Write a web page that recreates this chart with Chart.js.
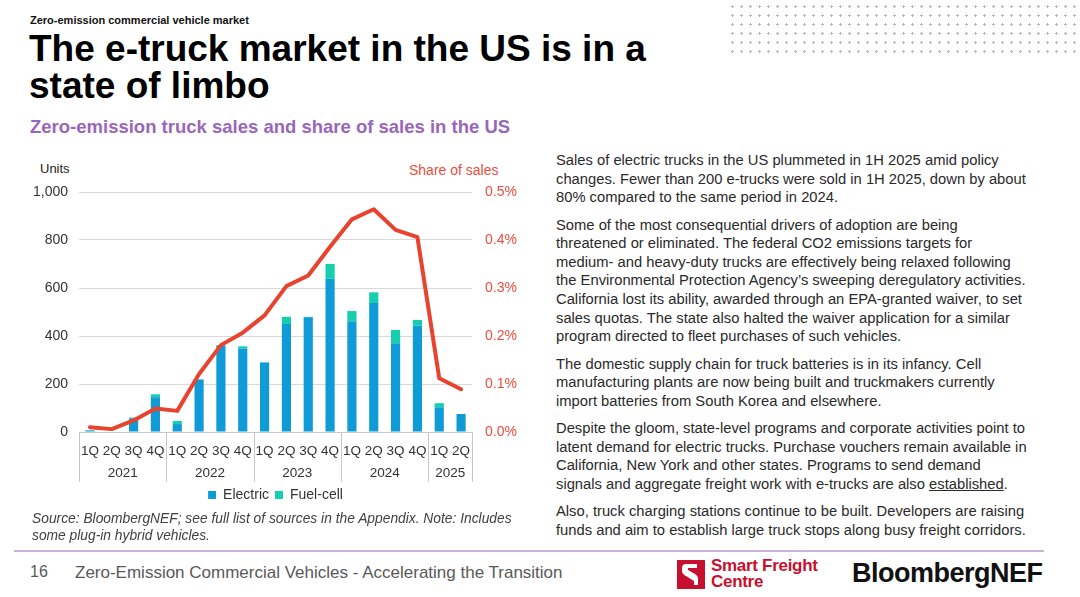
<!DOCTYPE html>
<html>
<head>
<meta charset="utf-8">
<script src="https://cdn.jsdelivr.net/npm/chart.js@4/dist/chart.umd.min.js"></script>
<style>
  body { margin: 0; background: #fff; font-family: "Liberation Sans", Arial, sans-serif; }
  #page { position: relative; width: 1080px; height: 597px; overflow: hidden; background: #fff; }
  .abs { position: absolute; white-space: nowrap; }
  #dots { position: absolute; left: 728px; top: 2px; width: 352px; height: 54px;
    background-image: radial-gradient(circle, #b8b8b8 1px, transparent 1.4px); background-size: 9px 9px; }
  #kicker { left: 30px; top: 14px; font-size: 11px; font-weight: bold; color: #111; }
  #title { left: 29px; top: 30px; font-size: 37px; font-weight: bold; color: #000; line-height: 37px; }
  #sub { left: 30px; top: 116px; font-size: 18.5px; font-weight: bold; color: #9966bb; }
  #units { left: 40px; top: 161px; font-size: 13px; color: #222; }
  #share { left: 409px; top: 162px; font-size: 14px; color: #ee4b3c; }
  #chartbox { position: absolute; left: 20px; top: 150px; width: 530px; height: 362px; }
  #note { left: 32px; top: 510px; font-size: 13.8px; font-style: italic; color: #404040; line-height: 17px; }
  #body { left: 556px; top: 151px; font-size: 14.75px; color: #2a2a2a; line-height: 18.6px; }
  #body p { margin: 0 0 8.8px 0; }
  #rule { position: absolute; left: 14px; top: 550px; width: 1030px; height: 2px; background: #c9b3dd; }
  #pg { left: 30px; top: 563px; font-size: 16px; color: #595959; }
  #foot { left: 75px; top: 563px; font-size: 17px; color: #595959; }
  #sfc { position: absolute; left: 677px; top: 560px; width: 28px; height: 29px; }
  #sfct { left: 711px; top: 558px; font-size: 17px; font-weight: bold; color: #c8102e; line-height: 15.5px; letter-spacing: -0.3px; }
  #bnef { left: 852px; top: 558px; font-size: 27px; font-weight: bold; color: #111; letter-spacing: -0.5px; }
</style>
</head>
<body>
<div id="page">
  <div id="dots"></div>
  <div class="abs" id="kicker">Zero-emission commercial vehicle market</div>
  <div class="abs" id="title">The e-truck market in the US is in a<br>state of limbo</div>
  <div class="abs" id="sub">Zero-emission truck sales and share of sales in the US</div>
  <div class="abs" id="units">Units</div>
  <div class="abs" id="share">Share of sales</div>
  <div id="chartbox"><canvas id="chart"></canvas></div>
  <div class="abs" id="note">Source: BloombergNEF; see full list of sources in the Appendix. Note: Includes<br>some plug-in hybrid vehicles.</div>
  <div class="abs" id="body">
    <p>Sales of electric trucks in the US plummeted in 1H 2025 amid policy<br>changes. Fewer than 200 e-trucks were sold in 1H 2025, down by about<br>80% compared to the same period in 2024.</p>
    <p>Some of the most consequential drivers of adoption are being<br>threatened or eliminated. The federal CO2 emissions targets for<br>medium- and heavy-duty trucks are effectively being relaxed following<br>the Environmental Protection Agency’s sweeping deregulatory activities.<br>California lost its ability, awarded through an EPA-granted waiver, to set<br>sales quotas. The state also halted the waiver application for a similar<br>program directed to fleet purchases of such vehicles.</p>
    <p>The domestic supply chain for truck batteries is in its infancy. Cell<br>manufacturing plants are now being built and truckmakers currently<br>import batteries from South Korea and elsewhere.</p>
    <p>Despite the gloom, state-level programs and corporate activities point to<br>latent demand for electric trucks. Purchase vouchers remain available in<br>California, New York and other states. Programs to send demand<br>signals and aggregate freight work with e-trucks are also <u>established</u>.</p>
    <p>Also, truck charging stations continue to be built. Developers are raising<br>funds and aim to establish large truck stops along busy freight corridors.</p>
  </div>
  <div id="rule"></div>
  <div class="abs" id="pg">16</div>
  <div class="abs" id="foot">Zero-Emission Commercial Vehicles - Accelerating the Transition</div>
  <svg id="sfc" viewBox="0 0 28 29"><rect width="28" height="29" fill="#c8102e"/><path d="M20 4 L9 4 Q5 4 5 8 L5 11 Q5 14 9 16 L17 21 L17 25 L21 25 L21 18 Q21 16 18 14 L11 10 L11 8 L20 8 Z" fill="#fff"/></svg>
  <div class="abs" id="sfct">Smart Freight<br>Centre</div>
  <div class="abs" id="bnef">BloombergNEF</div>
</div>
<script>
// data
const quarters = ['1Q', '2Q', '3Q', '4Q', '1Q', '2Q', '3Q', '4Q', '1Q', '2Q', '3Q', '4Q', '1Q', '2Q', '3Q', '4Q', '1Q', '2Q'];
const years = ['2021', '2022', '2023', '2024', '2025'];
const yearSpan = [4, 4, 4, 4, 2];
const electric = [6, 2, 57, 145, 33, 218, 360, 347, 290, 450, 478, 638, 460, 537, 370, 443, 103, 75];
const fuelCell = [2, 0, 3, 12, 13, 2, 2, 10, 0, 30, 2, 62, 44, 45, 55, 24, 17, 0];
const shareOfSales = [0.010, 0.006, 0.024, 0.049, 0.044, 0.121, 0.181, 0.207, 0.243, 0.304, 0.326, 0.386, 0.443, 0.464, 0.421, 0.406, 0.112, 0.089];
const unitTicks = [0, 200, 400, 600, 800, 1000];

const txt = '#333333';
const grey = '#c8c8c8';
const fam = '"Liberation Sans", Arial, sans-serif';

// {{{ yearGroups plugin: second row of the category axis
const yearGroups =
{
  id: 'yearGroups',
  afterDraw(chart)
  {
    let x = chart.scales.x;
    let ctx = chart.ctx;
    let bottom = chart.chartArea.bottom;
    let w = x.getPixelForValue(1) - x.getPixelForValue(0);
    let i = 0;
    ctx.save();
    ctx.strokeStyle = grey;
    ctx.lineWidth = 1;
    ctx.fillStyle = txt;
    ctx.font = '13.5px ' + fam;
    ctx.textAlign = 'center';
    ctx.textBaseline = 'middle';
    let edges = [x.getPixelForValue(0) - w / 2];
    for (let g = 0; g < years.length; g++)
    {
      let l = x.getPixelForValue(i) - w / 2;
      let r = x.getPixelForValue(i + yearSpan[g] - 1) + w / 2;
      edges.push(r);
      ctx.fillText(years[g], (l + r) / 2, bottom + 41);
      i += yearSpan[g];
    }
    for (let e of edges)
    {
      let px = Math.round(e) + 0.5;
      ctx.beginPath();
      ctx.moveTo(px, bottom);
      ctx.lineTo(px, bottom + 50);
      ctx.stroke();
    }
    ctx.restore();
  }
};
// }}}

new Chart(document.getElementById('chart'),
{
  type: 'bar',
  data:
  {
    labels: quarters,
    datasets:
    [
      {label: 'Share of sales', type: 'line', data: shareOfSales, yAxisID: 'y1', borderColor: '#e8432e', borderWidth: 4, pointRadius: 0, tension: 0, borderJoinStyle: 'round', borderCapStyle: 'round', order: 0},
      {label: 'Electric', data: electric, backgroundColor: '#0f9bd7', yAxisID: 'y', stack: 'u', order: 1, barPercentage: 0.42, categoryPercentage: 1},
      {label: 'Fuel-cell', data: fuelCell, backgroundColor: '#13cfae', yAxisID: 'y', stack: 'u', order: 1, barPercentage: 0.42, categoryPercentage: 1}
    ]
  },
  options:
  {
    responsive: true,
    maintainAspectRatio: false,
    animation: false,
    layout: {padding: {top: 42, left: 0, right: 0, bottom: 0}},
    plugins:
    {
      tooltip: {enabled: false},
      legend:
      {
        position: 'bottom',
        fullSize: false,
        labels:
        {
          filter: (item) => item.text != 'Share of sales',
          boxWidth: 8,
          boxHeight: 8,
          padding: 6,
          color: txt,
          font: {family: fam, size: 14}
        }
      }
    },
    scales:
    {
      x:
      {
        stacked: true,
        grid: {display: false},
        border: {display: true, color: grey},
        ticks: {color: txt, autoSkip: false, maxRotation: 0, padding: 3, font: {family: fam, size: 13.5}},
        afterFit: (s) => { s.height = 50; }
      },
      y:
      {
        stacked: true,
        min: 0,
        max: 1000,
        afterBuildTicks: (s) => { s.ticks = unitTicks.map((v) => ({value: v})); },
        grid: {color: '#d9d9d9', drawTicks: false},
        border: {display: false},
        ticks: {color: txt, padding: 11, font: {family: fam, size: 14}, callback: (v) => v.toLocaleString('en-US')},
        afterFit: (s) => { s.width = 59; }
      },
      y1:
      {
        position: 'right',
        min: 0,
        max: 0.5,
        grid: {display: false},
        border: {display: false},
        ticks: {stepSize: 0.1, color: '#ee4b3c', padding: 5, font: {family: fam, size: 14}, callback: (v) => v.toFixed(1) + '%'},
        afterFit: (s) => { s.width = 78; }
      }
    }
  },
  plugins: [yearGroups]
});
</script>
</body>
</html>
